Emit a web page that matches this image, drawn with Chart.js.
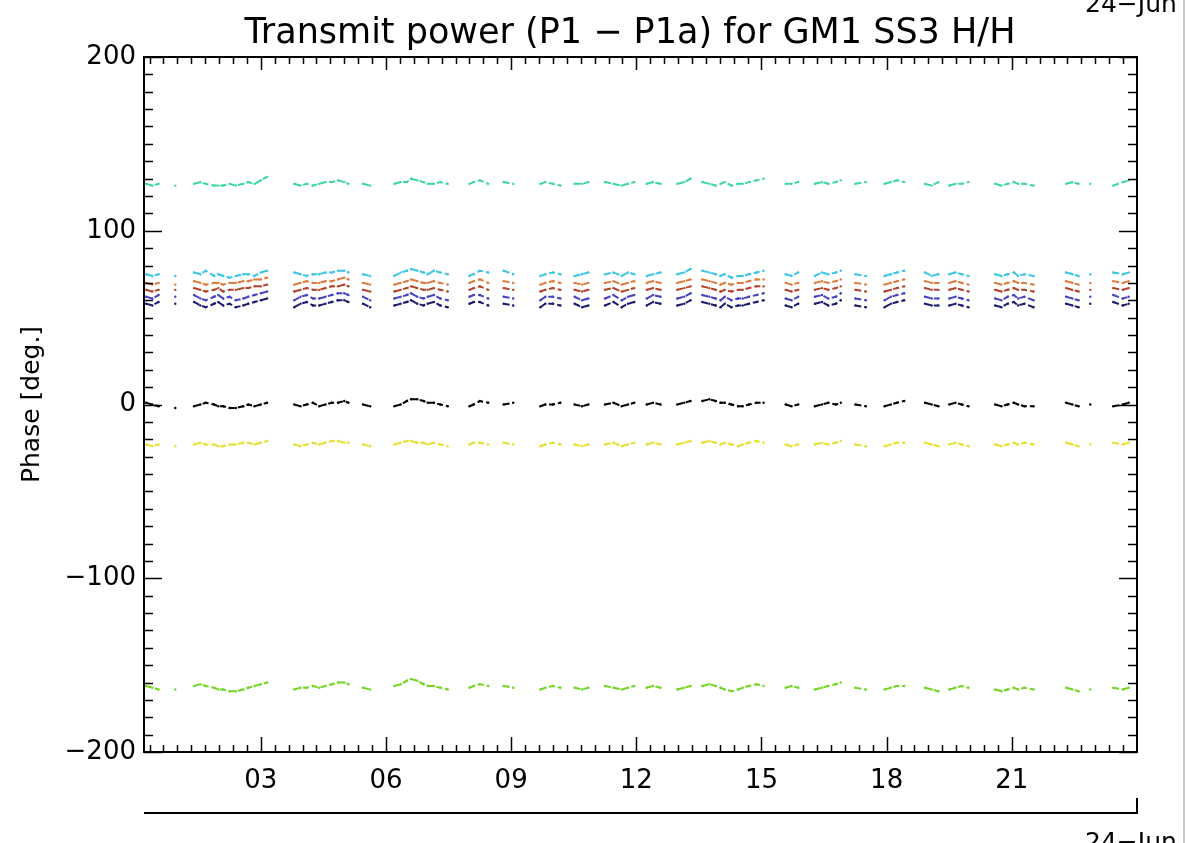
<!DOCTYPE html>
<html>
<head>
<meta charset="utf-8">
<title>Transmit power (P1 - P1a) for GM1 SS3 H/H</title>
<script src="https://cdn.jsdelivr.net/npm/chart.js@4.4.0/dist/chart.umd.min.js"></script>
<style>
  html, body { margin: 0; padding: 0; background: #ffffff; }
  #wrap { width: 1186px; height: 843px; position: relative; }
</style>
</head>
<body>
<div id="wrap"><canvas id="phase-chart" width="1186" height="843"></canvas></div>
<script>
// sample times, hours of 24-Jun
const hours = [
  0.25, 0.40, 0.55,
  0.95,
  1.40, 1.55, 1.68,
  1.88, 1.98,
  2.10, 2.25, 2.40, 2.58,
  2.70, 2.85, 3.00, 3.15,
  3.80, 3.95, 4.10, 4.25,
  4.40, 4.55, 4.70, 4.85, 5.00, 5.10,
  5.45, 5.62,
  6.20, 6.35, 6.50,
  6.60, 6.75, 6.90, 7.00,
  7.15, 7.30, 7.48,
  8.00, 8.10,
  8.25, 8.45,
  8.82, 9.05,
  9.70, 9.82,
  10.00, 10.18,
  10.52, 10.70, 10.85,
  11.25, 11.45,
  11.65, 11.80, 11.95,
  12.25, 12.40, 12.58,
  12.98, 13.15, 13.30,
  13.58, 13.75, 13.90, 14.02,
  14.12, 14.28, 14.44,
  14.55, 14.70, 14.88, 15.05,
  15.58, 15.72, 15.88,
  16.28, 16.45, 16.60,
  16.78, 16.90,
  17.25, 17.50,
  17.95, 18.10, 18.25, 18.42,
  18.92, 19.08, 19.24,
  19.50, 19.65, 19.80, 19.96,
  20.60, 20.75, 20.90, 21.05,
  21.15, 21.30, 21.52,
  22.30, 22.45, 22.60,
  22.88,
  23.43,
  23.66, 23.80
];

const phaseTeal = [
  127, 126, 127, 126, 127, 128, 127, 126, 126, 126, 127, 126, 127,
  128, 127, 129, 131, 127, 126, 127, 126, 127, 128, 128, 129, 128, 127,
  127, 126, 127, 128, 128, 130, 129, 128, 127, 127, 128, 127, 127, 128,
  129, 127, 128, 127, 127, 128, 127, 126, 127, 127, 128, 128, 127,
  126, 127, 128, 127, 128, 127, 127, 128, 130, 128, 127, 126, 127,
  128, 126, 127, 127, 128, 129, 130, 127, 127, 128, 127, 128, 127,
  128, 129, 127, 128, 127, 128, 129, 128, 127, 126, 128, 126, 127,
  127, 128, 127, 126, 127, 128, 127, 127, 126, 127, 128, 127, 127,
  126, 128, 129
];
const phaseCyan = [
  75, 74, 75, 74, 76, 75, 77, 74, 75, 74, 73, 74, 75,
  75, 74, 76, 77, 76, 75, 74, 75, 75, 76, 76, 77, 77, 76,
  75, 74, 74, 76, 77, 78, 77, 76, 75, 77, 76, 75, 74, 75,
  77, 76, 77, 75, 74, 75, 76, 75, 74, 75, 76, 75, 76,
  74, 76, 75, 74, 75, 76, 75, 76, 78, 77, 76, 75, 74,
  75, 73, 74, 74, 75, 76, 77, 75, 74, 76, 74, 76, 75,
  76, 77, 75, 74, 74, 75, 76, 77, 76, 74, 75, 75, 76,
  75, 74, 75, 74, 75, 76, 74, 75, 74, 76, 75, 74, 75,
  76, 75, 76
];
const phaseOrange = [
  70, 69, 70, 69, 71, 70, 69, 70, 70, 69, 70, 70, 71,
  71, 72, 72, 73, 69, 70, 71, 70, 70, 71, 71, 72, 73, 72,
  70, 69, 69, 70, 71, 72, 71, 70, 70, 71, 70, 69, 70, 71,
  72, 70, 71, 70, 69, 70, 71, 70, 70, 69, 70, 70, 71,
  69, 70, 71, 70, 71, 70, 70, 71, 72, 72, 71, 70, 69,
  70, 69, 70, 70, 71, 72, 72, 70, 69, 70, 70, 71, 70,
  71, 72, 70, 69, 69, 70, 71, 72, 71, 70, 70, 70, 71,
  70, 69, 70, 69, 70, 71, 70, 70, 69, 71, 70, 69, 70,
  71, 70, 71
];
const phaseRed = [
  66, 65, 66, 66, 67, 66, 65, 66, 67, 65, 66, 66, 67,
  67, 68, 68, 69, 65, 66, 67, 66, 66, 67, 68, 68, 69, 68,
  66, 65, 65, 66, 67, 68, 67, 66, 66, 67, 66, 65, 66, 67,
  68, 66, 67, 66, 65, 66, 67, 66, 66, 65, 66, 66, 67,
  65, 66, 67, 66, 67, 66, 66, 67, 68, 68, 67, 66, 65,
  66, 65, 66, 66, 67, 68, 68, 66, 65, 66, 66, 67, 66,
  67, 68, 66, 65, 65, 66, 67, 68, 67, 66, 66, 66, 67,
  66, 65, 66, 65, 66, 67, 66, 66, 65, 67, 66, 65, 66,
  67, 66, 67
];
const phaseBlue = [
  62, 61, 63, 62, 63, 61, 60, 62, 63, 61, 62, 60, 61,
  62, 63, 64, 65, 60, 62, 63, 61, 61, 62, 63, 64, 64, 63,
  62, 60, 61, 62, 63, 64, 62, 61, 62, 63, 61, 60, 62, 63,
  63, 61, 62, 61, 60, 62, 62, 61, 62, 60, 61, 61, 63,
  60, 62, 63, 61, 63, 62, 61, 62, 64, 63, 62, 61, 60,
  62, 60, 61, 61, 62, 63, 64, 61, 60, 62, 62, 63, 61,
  62, 64, 61, 60, 60, 62, 63, 64, 62, 61, 61, 61, 62,
  61, 60, 61, 60, 62, 63, 61, 62, 60, 62, 61, 60, 62,
  63, 61, 62
];
const phaseNavy = [
  58, 57, 59, 58, 59, 57, 56, 58, 59, 57, 58, 56, 57,
  58, 59, 60, 61, 56, 58, 59, 57, 57, 58, 59, 60, 60, 59,
  58, 56, 57, 58, 59, 60, 58, 57, 58, 59, 57, 56, 58, 59,
  59, 57, 58, 57, 56, 58, 58, 57, 58, 56, 57, 57, 59,
  56, 58, 59, 57, 59, 58, 57, 58, 60, 59, 58, 57, 56,
  58, 56, 57, 57, 58, 59, 60, 57, 56, 58, 58, 59, 57,
  58, 60, 57, 56, 56, 58, 59, 60, 58, 57, 57, 57, 58,
  57, 56, 57, 56, 58, 59, 57, 58, 56, 58, 57, 56, 58,
  59, 57, 58
];
const phaseBlack = [
  1, 0, -1, -2, -1, 0, 1, 0, -1, -1, -2, -2, -1,
  0, -1, 0, 1, 0, -1, 0, 1, -1, 0, 1, 1, 2, 1,
  0, -1, -1, 0, 2, 3, 3, 2, 1, 1, 0, -1, -1, 0,
  2, 1, 0, 1, -1, 0, 0, 1, 0, -1, 0, 0, 1,
  -1, 0, 1, 0, 1, 0, 0, 1, 2, 2, 3, 2, 1,
  1, 0, -1, -1, 0, 1, 1, 0, -1, 0, -1, 0, 1,
  0, 1, 0, -1, -1, 0, 1, 2, 1, 0, -1, 0, 1,
  0, -1, 0, -1, 0, 1, 0, -1, -1, 1, 0, -1, 0,
  -1, 0, 1
];
const phaseYellow = [
  -23, -24, -23, -24, -23, -22, -23, -23, -24, -24, -23, -23, -22,
  -22, -23, -22, -21, -23, -24, -23, -22, -23, -22, -21, -21, -22, -22,
  -23, -24, -23, -22, -21, -21, -22, -22, -23, -22, -23, -24, -23, -22,
  -22, -23, -22, -23, -24, -23, -22, -23, -23, -24, -23, -23, -22,
  -24, -23, -22, -23, -22, -23, -23, -22, -21, -22, -21, -22, -23,
  -22, -23, -24, -23, -22, -21, -22, -23, -24, -23, -23, -22, -23,
  -22, -21, -23, -24, -24, -23, -22, -22, -22, -23, -24, -23, -22,
  -23, -24, -23, -24, -23, -22, -23, -22, -23, -22, -23, -24, -23,
  -22, -23, -22
];
const phaseGreen = [
  -162, -163, -164, -164, -162, -161, -162, -163, -164, -164, -165, -165, -164,
  -163, -162, -161, -160, -164, -163, -163, -162, -163, -162, -161, -160, -160, -161,
  -163, -164, -162, -161, -159, -158, -159, -161, -162, -162, -163, -164, -163, -162,
  -161, -162, -162, -163, -164, -163, -162, -163, -163, -164, -163, -162, -163,
  -164, -163, -162, -163, -162, -163, -164, -163, -162, -162, -161, -162, -163,
  -164, -165, -164, -163, -162, -161, -162, -163, -162, -163, -164, -163, -162,
  -161, -160, -163, -164, -164, -163, -162, -162, -163, -164, -165, -164, -163,
  -162, -163, -164, -165, -164, -163, -164, -163, -164, -163, -164, -165, -164,
  -163, -164, -163
];

const seriesColors = ['#3ad6a6', '#3cc6e6', '#e07a3c', '#b4442c', '#4444c4', '#1c1c6c', '#000000', '#e6e030', '#72d622'];
const hourTicks = [3, 6, 9, 12, 15, 18, 21];
const phaseTicks = [-200, -100, 0, 100, 200];
const dateLabel = '24\u2212Jun';
const titleText = 'Transmit power (P1 \u2212 P1a) for GM1 SS3 H/H';

// break the trace where the sampling has a gap
function toPoints(values) {
  const pts = [];
  for (let i = 0; i < hours.length; i++) {
    if (i > 0 && hours[i] - hours[i - 1] > 0.26) {
      pts.push({ x: (hours[i] + hours[i - 1]) / 2, y: null });
    }
    pts.push({ x: hours[i], y: values[i] });
  }
  return pts;
}

const allSeries = [phaseTeal, phaseCyan, phaseOrange, phaseRed, phaseBlue, phaseNavy, phaseBlack, phaseYellow, phaseGreen];

const frameTicks = {
  id: 'frameTicks',
  afterDraw(chart) {
    const { ctx, chartArea: a, scales: { x, y } } = chart;
    ctx.save();
    ctx.strokeStyle = '#000';
    ctx.lineWidth = 1.5;
    ctx.beginPath();
    for (let v = -200; v <= 200; v += 10) {
      const py = Math.round(y.getPixelForValue(v)) + 0.5;
      const len = v % 100 === 0 ? 18 : 9;
      ctx.moveTo(a.left, py); ctx.lineTo(a.left + len, py);
      ctx.moveTo(a.right, py); ctx.lineTo(a.right - len, py);
    }
    for (let m = 0; m <= 24 * 60; m += 20) {
      const h = m / 60;
      if (h <= x.min || h >= x.max) continue;
      const px = Math.round(x.getPixelForValue(h)) + 0.5;
      const major = m % 180 === 0;
      ctx.moveTo(px, a.bottom); ctx.lineTo(px, a.bottom - (major ? 15 : 7));
      ctx.moveTo(px, a.top); ctx.lineTo(px, a.top + (major ? 13 : 7));
    }
    ctx.stroke();
    ctx.lineWidth = 2;
    ctx.strokeRect(a.left, a.top, a.right - a.left, a.bottom - a.top);

    // date axis under the hours
    const y2 = 813;
    ctx.beginPath();
    ctx.moveTo(a.left, y2); ctx.lineTo(a.right, y2); ctx.lineTo(a.right, y2 - 15);
    ctx.stroke();

    ctx.fillStyle = '#000';
    ctx.font = '35px "DejaVu Sans"';
    ctx.textAlign = 'center';
    ctx.textBaseline = 'alphabetic';
    ctx.fillText(titleText, 630, 43);

    ctx.font = '25px "DejaVu Sans"';
    ctx.textAlign = 'left';
    ctx.fillText(dateLabel, 1085, 12);
    ctx.fillText(dateLabel, 1085, 850);

    ctx.strokeStyle = '#c8ccd2';
    ctx.lineWidth = 2;
    ctx.beginPath();
    ctx.moveTo(1184, 0); ctx.lineTo(1184, 843);
    ctx.stroke();
    ctx.restore();
  }
};

new Chart(document.getElementById('phase-chart'), {
  type: 'scatter',
  data: {
    datasets: allSeries.map((vals, i) => ({
      data: toPoints(vals),
      showLine: true,
      spanGaps: false,
      borderColor: seriesColors[i],
      backgroundColor: seriesColors[i],
      borderWidth: 2,
      borderDash: [6, 3],
      pointRadius: 1.2,
      pointBorderWidth: 0,
      pointHoverRadius: 0,
    })),
  },
  options: {
    responsive: false,
    animation: false,
    devicePixelRatio: 1,
    layout: { padding: { left: 0, right: 49, top: 57, bottom: 0 } },
    plugins: {
      legend: { display: false },
      tooltip: { enabled: false },
      title: { display: false },
    },
    scales: {
      x: {
        type: 'linear',
        min: 0.2,
        max: 24,
        afterBuildTicks: (scale) => { scale.ticks = hourTicks.map(v => ({ value: v })); },
        afterFit: (scale) => { scale.height = 91; },
        grid: { display: false },
        border: { display: false },
        ticks: {
          autoSkip: false,
          maxRotation: 0,
          padding: 6,
          color: '#000',
          font: { family: 'DejaVu Sans', size: 26 },
          callback: (v) => String(v).padStart(2, '0'),
        },
      },
      y: {
        min: -200,
        max: 200,
        afterBuildTicks: (scale) => { scale.ticks = phaseTicks.map(v => ({ value: v })); },
        afterFit: (scale) => { scale.width = 144; },
        grid: { display: false },
        border: { display: false },
        title: {
          display: true,
          text: 'Phase [deg.]',
          color: '#000',
          font: { family: 'DejaVu Sans', size: 25 },
          padding: { top: 17, bottom: 0 },
        },
        ticks: {
          padding: 0,
          color: '#000',
          font: { family: 'DejaVu Sans', size: 26 },
          callback: (v) => (v < 0 ? '\u2212' + Math.abs(v) : String(v)),
        },
      },
    },
  },
  plugins: [frameTicks],
});
</script>
</body>
</html>
